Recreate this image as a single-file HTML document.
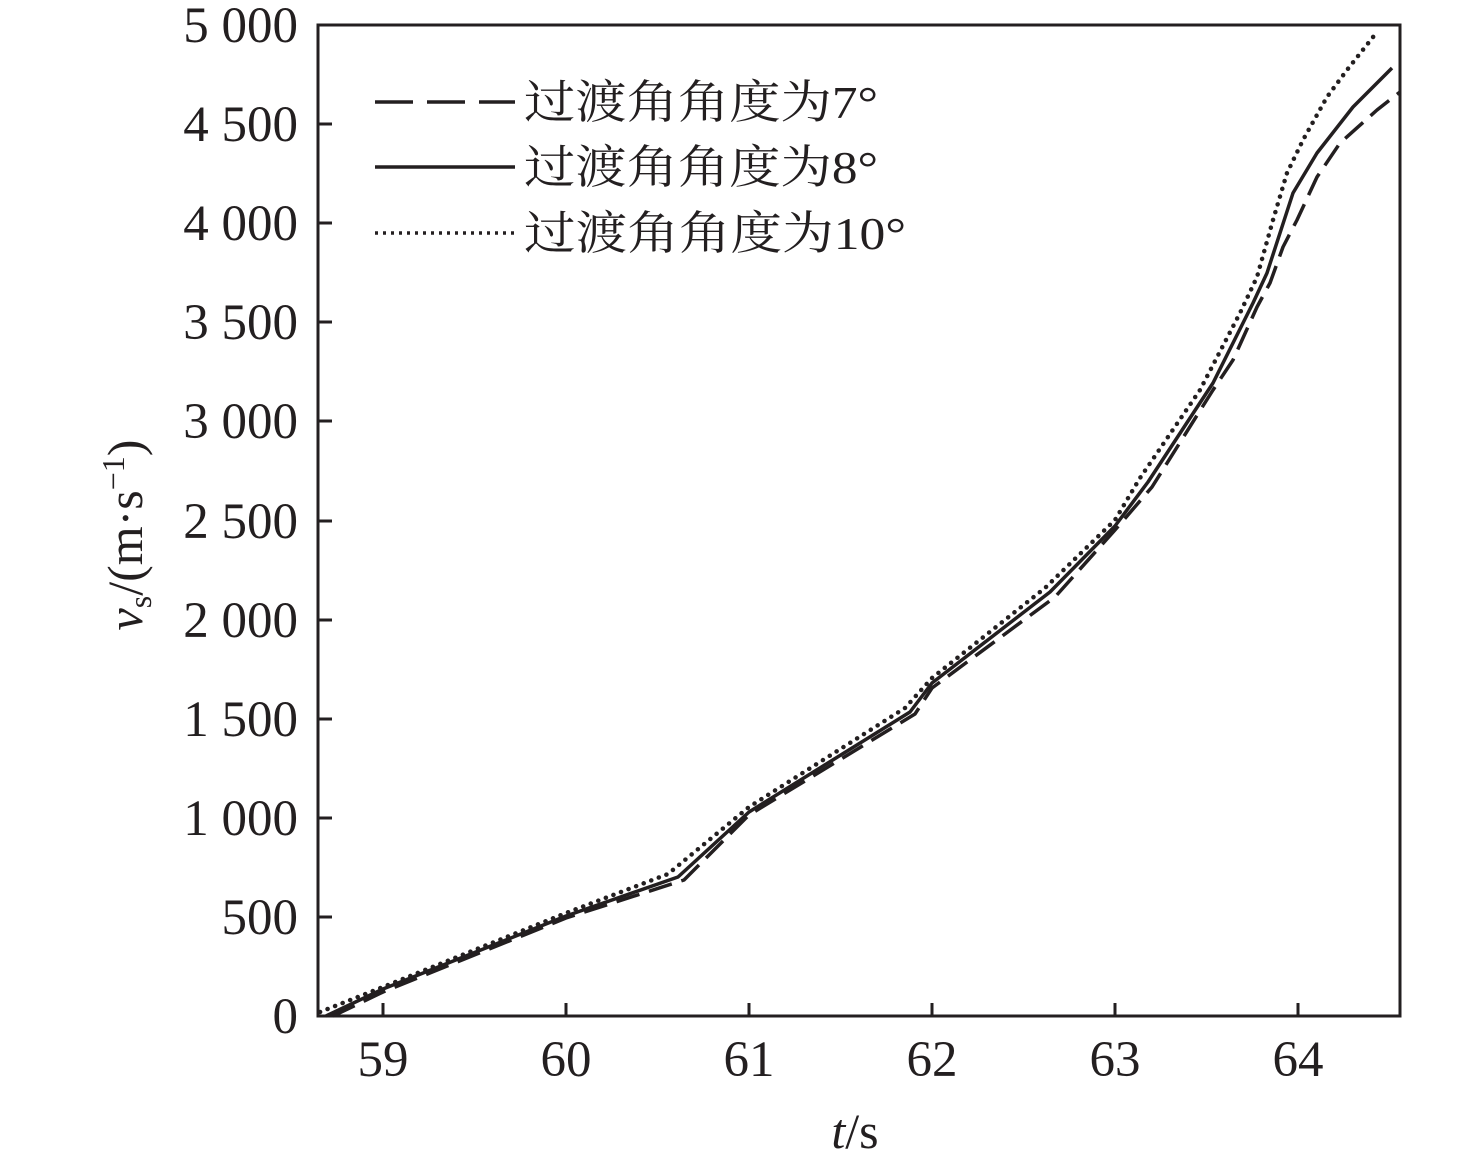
<!DOCTYPE html>
<html><head><meta charset="utf-8"><style>
html,body{margin:0;padding:0;background:#fff;}
svg{display:block;}
text{font-family:"Liberation Serif","Noto Serif CJK SC",serif;fill:#231f20;}
</style></head><body>
<svg width="1476" height="1165" viewBox="0 0 1476 1165" xmlns="http://www.w3.org/2000/svg">
<rect x="318" y="25" width="1082" height="991" fill="none" stroke="#231f20" stroke-width="3"/>
<g stroke="#231f20" stroke-width="3">
<line x1="383" y1="1016" x2="383" y2="1003"/><line x1="566" y1="1016" x2="566" y2="1003"/><line x1="749" y1="1016" x2="749" y2="1003"/><line x1="932" y1="1016" x2="932" y2="1003"/><line x1="1115" y1="1016" x2="1115" y2="1003"/><line x1="1298" y1="1016" x2="1298" y2="1003"/>
<line x1="318" y1="917" x2="332" y2="917"/><line x1="318" y1="818" x2="332" y2="818"/><line x1="318" y1="719" x2="332" y2="719"/><line x1="318" y1="620" x2="332" y2="620"/><line x1="318" y1="521" x2="332" y2="521"/><line x1="318" y1="421" x2="332" y2="421"/><line x1="318" y1="322" x2="332" y2="322"/><line x1="318" y1="223" x2="332" y2="223"/><line x1="318" y1="124" x2="332" y2="124"/>
</g>
<g font-size="51" text-anchor="middle">
<text x="383" y="1076">59</text><text x="566" y="1076">60</text><text x="749" y="1076">61</text><text x="932" y="1076">62</text><text x="1115" y="1076">63</text><text x="1298" y="1076">64</text>
</g>
<g font-size="51" text-anchor="end">
<text x="298" y="1033">0</text><text x="298" y="934">500</text><text x="298" y="835">1 000</text><text x="298" y="736">1 500</text><text x="298" y="637">2 000</text><text x="298" y="538">2 500</text><text x="298" y="438">3 000</text><text x="298" y="339">3 500</text><text x="298" y="240">4 000</text><text x="298" y="141">4 500</text><text x="298" y="42">5 000</text>
</g>
<text x="855" y="1148" font-size="50" text-anchor="middle"><tspan font-style="italic">t</tspan>/s</text>
<text transform="translate(142,535) rotate(-90)" font-size="50" text-anchor="middle"><tspan font-style="italic">v</tspan><tspan font-size="32" dy="9">s</tspan><tspan dy="-9">/(m·s</tspan><tspan font-size="32" dy="-18">−1</tspan><tspan dy="18">)</tspan></text>
<g fill="none" stroke="#231f20" stroke-width="3.5" stroke-linejoin="round">
<polyline points="326,1016 383,989 566,916 678,877 749,812 910,712 932,683 1050,592 1115,526 1148,482 1213,383 1253,303 1267,273 1280,233 1293,193 1317,153 1353,107 1392,68"/>
<polyline stroke-dasharray="24,10" points="333,1016 383,992 566,918 684,880 749,815 915,714 932,688 1055,597 1115,530 1152,487 1213,390 1233,360 1257,307 1270,283 1283,247 1297,220 1317,177 1340,143 1377,110 1400,92"/>
<polyline stroke-width="4.5" stroke-linecap="round" stroke-dasharray="0.1,8" points="320,1012 383,987 566,913 668,874 749,807 905,708 932,678 1045,588 1115,520 1140,478 1200,390 1240,313 1257,277 1273,220 1287,173 1303,140 1327,97 1347,70 1377,32"/>
<line x1="375" y1="102" x2="515" y2="102" stroke-dasharray="38,14"/>
<line x1="375" y1="167" x2="515" y2="167"/>
<line x1="375" y1="233" x2="515" y2="233" stroke-dasharray="3,5"/>
</g>
<g font-size="46">
<text x="524" y="118" textLength="354" lengthAdjust="spacingAndGlyphs">过渡角角度为7°</text>
<text x="524" y="183" textLength="354" lengthAdjust="spacingAndGlyphs">过渡角角度为8°</text>
<text x="524" y="249" textLength="382" lengthAdjust="spacingAndGlyphs">过渡角角度为10°</text>
</g>
</svg>
</body></html>
